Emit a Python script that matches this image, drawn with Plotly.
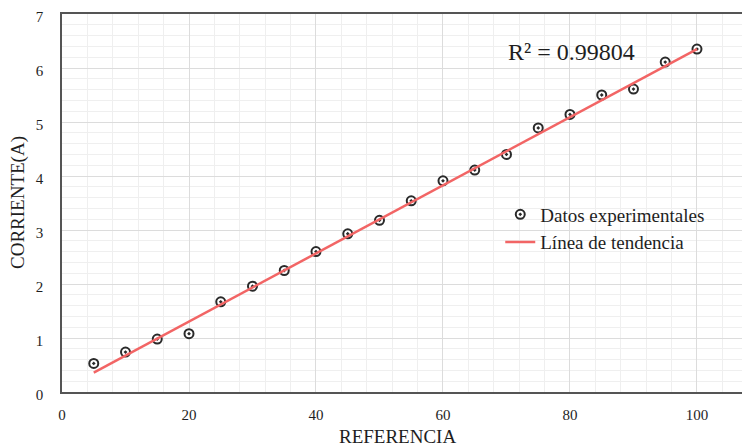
import plotly.graph_objects as go

referencia = [5, 10, 15, 20, 25, 30, 35, 40, 45, 50, 55, 60, 65, 70, 75, 80, 85, 90, 95, 100]
corriente = [0.53, 0.74, 0.98, 1.08, 1.67, 1.96, 2.25, 2.60, 2.93, 3.18, 3.54, 3.91, 4.11, 4.40,
             4.89, 5.14, 5.50, 5.61, 6.11, 6.35]
trend_x = [5, 100]
trend_y = [0.36, 6.35]
r2_text = "R² = 0.99804"

FONT = "Liberation Serif"
TXT = "#1e1e1e"

fig = go.Figure()
fig.add_trace(go.Scatter(
    x=referencia, y=corriente, mode="markers", name="Datos experimentales",
    marker=dict(symbol="circle-dot", size=9, color="white",
                line=dict(color="#2a2a2a", width=2)),
))
fig.add_trace(go.Scatter(
    x=trend_x, y=trend_y, mode="lines", name="Línea de tendencia",
    line=dict(color="#f26565", width=2.5),
))
fig.add_annotation(x=70, y=6.3, text=r2_text, showarrow=False, xanchor="left",
                   yanchor="middle", font=dict(family=FONT, size=24, color=TXT))
fig.add_annotation(x=0.5, y=0, xref="paper", yref="paper", text="REFERENCIA",
                   showarrow=False, xanchor="center", yanchor="middle", yshift=-44,
                   xshift=-9, font=dict(family=FONT, size=19, color=TXT))
fig.add_annotation(x=0, y=0.5, xref="paper", yref="paper", text="CORRIENTE(A)",
                   showarrow=False, xanchor="center", yanchor="middle", xshift=-44,
                   textangle=-90, font=dict(family=FONT, size=19, color=TXT))

fig.update_layout(
    width=742, height=439,
    margin=dict(l=54, r=0, t=6, b=55, autoexpand=False),
    paper_bgcolor="white", plot_bgcolor="white",
    font=dict(family=FONT, size=15, color=TXT),
    showlegend=True,
    legend=dict(x=0.637, y=0.52, xanchor="left", yanchor="top",
                bgcolor="rgba(0,0,0,0)", font=dict(family=FONT, size=19, color=TXT),
                itemwidth=30, tracegroupgap=0),
)
fig.update_xaxes(
    range=[0, 108.35], dtick=20, tick0=0, automargin=False,
    showline=True, linecolor="#555555", linewidth=1.5, mirror=True,
    showgrid=True, gridcolor="#dcdcdc", gridwidth=1,
    minor=dict(dtick=4, showgrid=True, gridcolor="#efefef", gridwidth=1),
    zeroline=False, ticks="", ticklabelstandoff=8, ticklabeloverflow="allow",
    tickfont=dict(family=FONT, size=15, color=TXT),
)
fig.update_yaxes(
    range=[0, 7], dtick=1, tick0=0, automargin=False,
    showline=True, linecolor="#555555", linewidth=1.5,
    showgrid=True, gridcolor="#dcdcdc", gridwidth=1,
    minor=dict(dtick=0.2, showgrid=True, gridcolor="#efefef", gridwidth=1),
    zeroline=False, ticks="", ticklabelstandoff=14, ticklabeloverflow="allow",
    ticklabelshift=3,
    tickfont=dict(family=FONT, size=15, color=TXT),
)

fig.write_html("out.html")
